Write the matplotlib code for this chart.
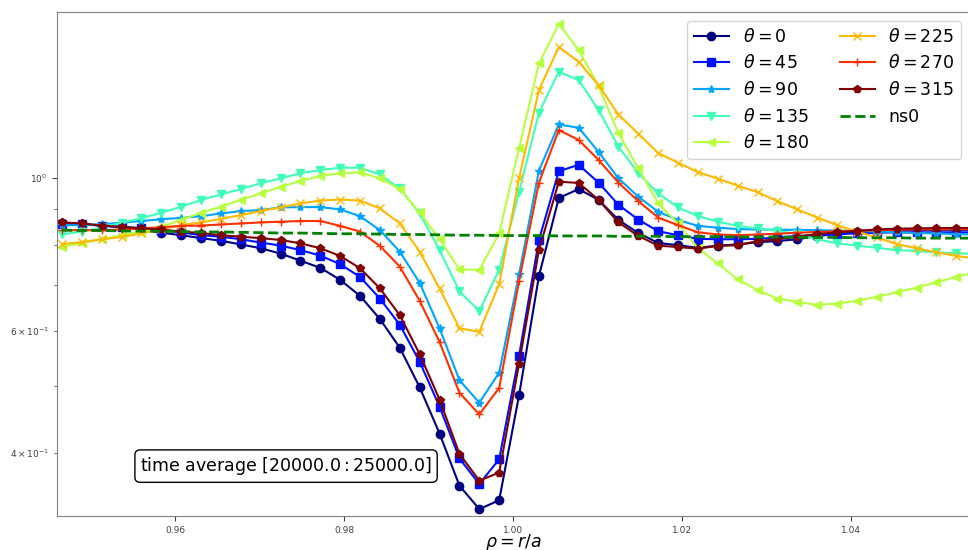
import numpy as np
import matplotlib
matplotlib.use("Agg")
import matplotlib.pyplot as plt

# radial grid rho = r/a (47 points across the edge)
rho = np.linspace(0.94658, 1.05483, 47)

theta_labels = [0, 45, 90, 135, 180, 225, 270, 315]
markers = ["o", "s", "*", "v", "<", "x", "+", "p"]

# time-averaged profiles, one per poloidal angle
n_th0 = [0.860, 0.857, 0.853, 0.848, 0.842, 0.833, 0.826, 0.818, 0.811, 0.801,
         0.791, 0.777, 0.759, 0.741, 0.712, 0.675, 0.625, 0.568, 0.498, 0.427,
         0.359, 0.332, 0.342, 0.485, 0.721, 0.935, 0.963, 0.929, 0.869, 0.832,
         0.805, 0.799, 0.792, 0.798, 0.801, 0.807, 0.810, 0.815, 0.824, 0.829,
         0.834, 0.838, 0.839, 0.840, 0.841, 0.841, 0.841]
n_th45 = [0.857, 0.856, 0.853, 0.849, 0.846, 0.840, 0.834, 0.826, 0.822, 0.815,
          0.806, 0.798, 0.786, 0.772, 0.750, 0.719, 0.669, 0.613, 0.542, 0.467,
          0.393, 0.361, 0.392, 0.553, 0.813, 1.022, 1.044, 0.984, 0.914, 0.870,
          0.837, 0.826, 0.816, 0.815, 0.815, 0.816, 0.820, 0.824, 0.826, 0.829,
          0.831, 0.833, 0.834, 0.834, 0.834, 0.834, 0.834]
n_th90 = [0.854, 0.854, 0.857, 0.861, 0.866, 0.871, 0.875, 0.880, 0.888, 0.895,
          0.898, 0.906, 0.907, 0.907, 0.900, 0.880, 0.840, 0.782, 0.705, 0.606,
          0.510, 0.473, 0.523, 0.725, 1.024, 1.194, 1.181, 1.090, 0.998, 0.939,
          0.893, 0.869, 0.852, 0.847, 0.843, 0.842, 0.841, 0.841, 0.840, 0.839,
          0.838, 0.836, 0.834, 0.832, 0.831, 0.829, 0.828]
n_th135 = [0.828, 0.836, 0.847, 0.861, 0.874, 0.890, 0.908, 0.929, 0.946, 0.963,
           0.982, 0.998, 1.015, 1.026, 1.034, 1.034, 1.011, 0.965, 0.888, 0.786,
           0.685, 0.642, 0.736, 0.954, 1.242, 1.423, 1.384, 1.253, 1.109, 1.015,
           0.949, 0.906, 0.880, 0.864, 0.852, 0.845, 0.838, 0.829, 0.815, 0.804,
           0.798, 0.792, 0.786, 0.784, 0.780, 0.778, 0.776]
n_th180 = [0.795, 0.804, 0.815, 0.826, 0.836, 0.849, 0.869, 0.890, 0.908, 0.929,
           0.949, 0.970, 0.989, 1.006, 1.015, 1.018, 0.998, 0.963, 0.891, 0.815,
           0.737, 0.736, 0.831, 1.103, 1.463, 1.668, 1.529, 1.357, 1.160, 1.032,
           0.918, 0.859, 0.791, 0.752, 0.713, 0.688, 0.669, 0.662, 0.655, 0.658,
           0.664, 0.673, 0.683, 0.694, 0.706, 0.719, 0.731]
n_th225 = [0.802, 0.807, 0.815, 0.821, 0.831, 0.843, 0.854, 0.862, 0.872, 0.883,
           0.895, 0.906, 0.918, 0.927, 0.930, 0.927, 0.903, 0.859, 0.782, 0.692,
           0.606, 0.599, 0.702, 0.998, 1.339, 1.545, 1.471, 1.361, 1.234, 1.158,
           1.086, 1.051, 1.019, 0.997, 0.974, 0.953, 0.925, 0.900, 0.876, 0.854,
           0.836, 0.820, 0.802, 0.791, 0.780, 0.771, 0.764]
n_th270 = [0.840, 0.840, 0.840, 0.842, 0.845, 0.848, 0.852, 0.853, 0.856, 0.859,
           0.862, 0.864, 0.866, 0.866, 0.852, 0.836, 0.797, 0.744, 0.664, 0.579,
           0.489, 0.455, 0.497, 0.709, 0.984, 1.172, 1.134, 1.061, 0.984, 0.925,
           0.876, 0.854, 0.834, 0.828, 0.826, 0.828, 0.830, 0.833, 0.835, 0.837,
           0.838, 0.840, 0.841, 0.842, 0.842, 0.843, 0.843]
n_th315 = [0.862, 0.859, 0.853, 0.849, 0.845, 0.842, 0.836, 0.832, 0.826, 0.822,
           0.818, 0.813, 0.804, 0.791, 0.771, 0.740, 0.692, 0.633, 0.556, 0.478,
           0.399, 0.365, 0.375, 0.539, 0.786, 0.987, 0.983, 0.929, 0.862, 0.824,
           0.798, 0.794, 0.790, 0.797, 0.799, 0.810, 0.815, 0.822, 0.829, 0.834,
           0.838, 0.842, 0.844, 0.845, 0.846, 0.846, 0.846]
ns0 = [0.840, 0.839, 0.839, 0.838, 0.837, 0.837, 0.836, 0.835, 0.835, 0.834,
       0.833, 0.832, 0.832, 0.831, 0.830, 0.830, 0.829, 0.828, 0.828, 0.827,
       0.826, 0.826, 0.825, 0.825, 0.825, 0.824, 0.824, 0.824, 0.823, 0.823,
       0.823, 0.822, 0.822, 0.822, 0.821, 0.821, 0.821, 0.820, 0.820, 0.820,
       0.819, 0.819, 0.819, 0.818, 0.818, 0.818, 0.818]

profiles = [n_th0, n_th45, n_th90, n_th135, n_th180, n_th225, n_th270, n_th315]
t_start, t_end = 20000.0, 25000.0

fig = plt.figure(figsize=(9.68, 5.5), dpi=100)
ax = fig.add_axes([0.0589, 0.0618, 0.9432, 0.9164])

colours = plt.cm.jet(np.linspace(0, 1, len(profiles)))
for th, prof, mk, c in zip(theta_labels, profiles, markers, colours):
    ax.plot(rho, prof, marker=mk, color=c, lw=1.5, ms=6,
            label=r"$\theta = %d$" % th)
ax.plot(rho, ns0, "--", color="green", lw=2, label="ns0")

ax.set_yscale("log")
ax.set_xlim(0.946, 1.0541)
ax.set_ylim(0.3245, 1.736)
ax.set_xticks([0.96, 0.98, 1.00, 1.02, 1.04])
ax.tick_params(axis="both", which="both", labelsize=6.5, colors="0.25")
ax.set_xlabel(r"$\rho = r/a$", fontsize=12.5, labelpad=-2)

for sp in ax.spines.values():
    sp.set_color("0.5")

ax.legend(loc="upper right", ncol=2, fontsize=12.5, handlelength=2.0,
          handletextpad=0.8, columnspacing=1.8)
ax.text(0.091, 0.099, r"time average $[%.1f:%.1f]$" % (t_start, t_end),
        transform=ax.transAxes, fontsize=12.5, va="center", ha="left",
        bbox=dict(boxstyle="round", fc="white", ec="black"))

fig.savefig("out.png", dpi=100)
